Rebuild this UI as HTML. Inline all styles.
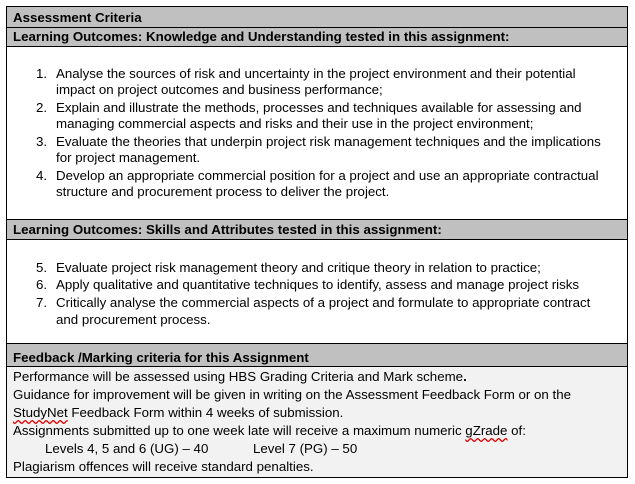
<!DOCTYPE html>
<html><head><meta charset="utf-8">
<style>
body{margin:0;width:635px;height:484px;background:#fff;position:relative;font-family:"Liberation Sans",Arial,sans-serif;font-size:13.3px;color:#000;overflow:hidden}
.box{position:absolute;left:6px;top:6px;width:622px;height:472px;border:1px solid #000;box-sizing:border-box}
.hdr{position:absolute;left:7px;width:620px;background:#c0c0c0;border-bottom:1px solid #000;box-sizing:border-box}
.ln{position:absolute;white-space:nowrap;line-height:16px}
.b{font-weight:bold}
.w{text-decoration:underline wavy #e00000;text-underline-offset:2px}
</style></head><body>
<div class="box"></div>
<div class="hdr" style="top:7px;height:21px"></div>
<div class="hdr" style="top:28px;height:19px"></div>
<div class="hdr" style="top:219px;height:21px;border-top:1px solid #000"></div>
<div class="hdr" style="top:343px;height:24px;border-top:1px solid #000"></div>
<div style="position:absolute;left:7px;top:367px;width:620px;height:110px;background:#f2f2f2"></div>

<div class="ln b" style="left:13px;top:10px">Assessment Criteria</div>
<div class="ln b" style="left:13px;top:29px">Learning Outcomes: Knowledge and Understanding tested in this assignment:</div>

<div>
<div class="ln" style="left:36px;top:66px">1.</div><div class="ln" style="left:56px;top:66px">Analyse the sources of risk and uncertainty in the project environment and their potential</div>
<div class="ln" style="left:56px;top:82px">impact on project outcomes and business performance;</div>
<div class="ln" style="left:36px;top:100px">2.</div><div class="ln" style="left:56px;top:100px">Explain and illustrate the methods, processes and techniques available for assessing and</div>
<div class="ln" style="left:56px;top:116px">managing commercial aspects and risks and their use in the project environment;</div>
<div class="ln" style="left:36px;top:134px">3.</div><div class="ln" style="left:56px;top:134px">Evaluate the theories that underpin project risk management techniques and the implications</div>
<div class="ln" style="left:56px;top:150px">for project management.</div>
<div class="ln" style="left:36px;top:168px">4.</div><div class="ln" style="left:56px;top:168px">Develop an appropriate commercial position for a project and use an appropriate contractual</div>
<div class="ln" style="left:56px;top:184px">structure and procurement process to deliver the project.</div>
</div>

<div class="ln b" style="left:13px;top:222px">Learning Outcomes: Skills and Attributes tested in this assignment:</div>

<div>
<div class="ln" style="left:36px;top:260px">5.</div><div class="ln" style="left:56px;top:260px">Evaluate project risk management theory and critique theory in relation to practice;</div>
<div class="ln" style="left:36px;top:277px">6.</div><div class="ln" style="left:56px;top:277px">Apply qualitative and quantitative techniques to identify, assess and manage project risks</div>
<div class="ln" style="left:36px;top:295px">7.</div><div class="ln" style="left:56px;top:295px">Critically analyse the commercial aspects of a project and formulate to appropriate contract</div>
<div class="ln" style="left:56px;top:312px">and procurement process.</div>
</div>

<div class="ln b" style="left:13px;top:350px">Feedback /Marking criteria for this Assignment</div>
<div>
<div class="ln" style="left:13px;top:369px">Performance will be assessed using HBS Grading Criteria and Mark scheme<b>.</b></div>
<div class="ln" style="left:13px;top:387px">Guidance for improvement will be given in writing on the Assessment Feedback Form or on the</div>
<div class="ln" style="left:13px;top:405px"><span class="w">StudyNet</span> Feedback Form within 4 weeks of submission.</div>
<div class="ln" style="left:13px;top:423px">Assignments submitted up to one week late will receive a maximum numeric <span class="w">gZrade</span> of:</div>
<div class="ln" style="left:45px;top:441px">Levels 4, 5 and 6 (UG) – 40</div>
<div class="ln" style="left:253px;top:441px">Level 7 (PG) – 50</div>
<div class="ln" style="left:13px;top:459px">Plagiarism offences will receive standard penalties.</div>
</div>
</body></html>
